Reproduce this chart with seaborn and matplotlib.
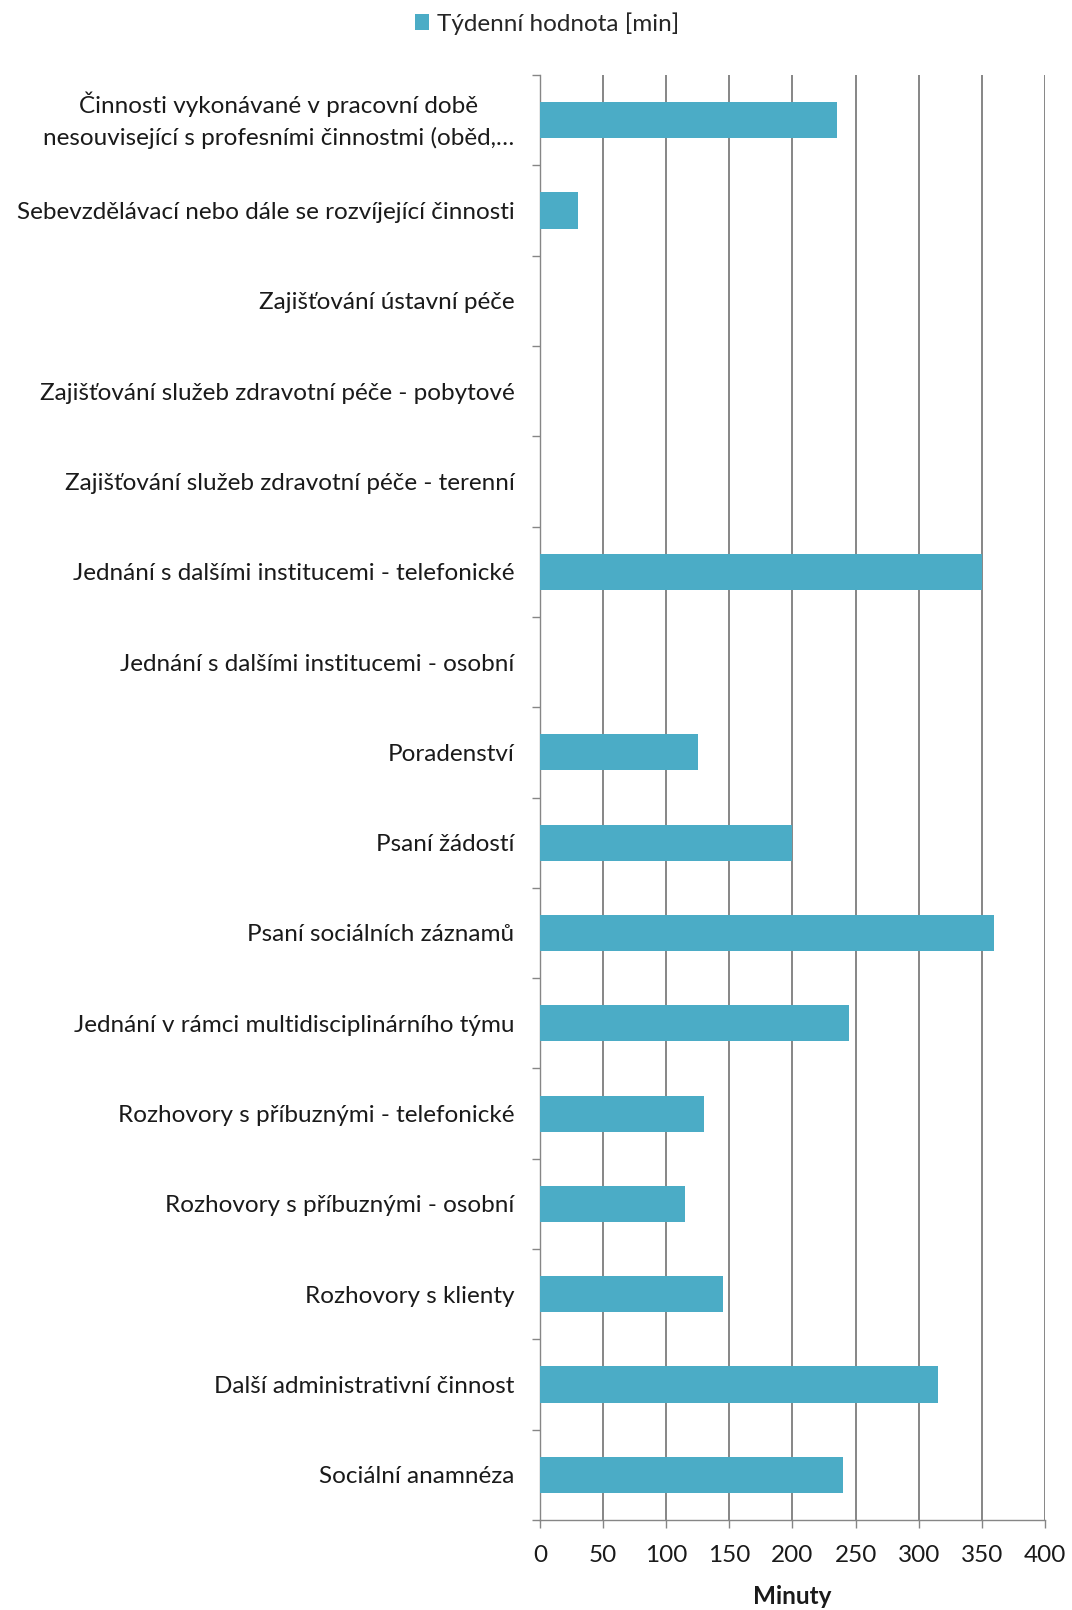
import numpy as np
import pandas as pd
import matplotlib
matplotlib.use("Agg")
import matplotlib.pyplot as plt
import matplotlib.transforms as mtransforms
import seaborn as sns
from matplotlib.ticker import FixedLocator

categories = [
    "Činnosti vykonávané v pracovní době\nnesouvisející s profesními činnostmi (oběd,…",
    "Sebevzdělávací nebo dále se rozvíjející činnosti",
    "Zajišťování ústavní péče",
    "Zajišťování služeb zdravotní péče - pobytové",
    "Zajišťování služeb zdravotní péče - terenní",
    "Jednání s dalšími institucemi - telefonické",
    "Jednání s dalšími institucemi - osobní",
    "Poradenství",
    "Psaní žádostí",
    "Psaní sociálních záznamů",
    "Jednání v rámci multidisciplinárního týmu",
    "Rozhovory s příbuznými - telefonické",
    "Rozhovory s příbuznými - osobní",
    "Rozhovory s klienty",
    "Další administrativní činnost",
    "Sociální anamnéza",
]
minutes = [235, 30, 0, 0, 0, 350, 0, 125, 200, 360, 245, 130, 115, 145, 315, 240]
x_ticks = [0, 50, 100, 150, 200, 250, 300, 350, 400]
series_name = "Týdenní hodnota [min]"
x_title = "Minuty"

bar_color = "#4BACC6"
axis_gray = "#868686"
text_color = "#1a1a1a"
fs = 17.5

sns.set_style("white")
plt.rcParams["font.family"] = ["Lato", "DejaVu Sans"]

df = pd.DataFrame({"Kategorie": categories, "Minuty": minutes})

fig = plt.figure(figsize=(10.72, 16.10), dpi=100)
ax = fig.add_axes([0.5037, 0.0559, 0.4711, 0.8975])

sns.barplot(data=df, x="Minuty", y="Kategorie", orient="h", color=bar_color,
            width=0.4, saturation=1, linewidth=0, ax=ax, label=series_name, zorder=3)

ax.set_xlim(0, 400)
ax.set_ylim(len(categories) - 0.5, -0.5)
ax.set_xticks(x_ticks)
ax.set_xticklabels([str(t) for t in x_ticks], fontsize=fs, color=text_color)
ax.tick_params(axis="x", bottom=True, length=5.8, width=1.0, color=axis_gray, pad=12)
ax.tick_params(axis="y", which="major", left=True, length=0, pad=18.5, labelsize=fs,
               labelcolor=text_color)
ax.yaxis.set_minor_locator(FixedLocator(np.arange(-0.5, len(categories), 1.0)))
ax.tick_params(axis="y", which="minor", left=True, length=5.8, width=1.0, color=axis_gray)

# two-line labels: centre the block on the category
lift = mtransforms.ScaledTranslation(0, 0.07, fig.dpi_scale_trans)
for lbl in ax.get_yticklabels():
    lbl.set_multialignment("center")
    if "\n" in lbl.get_text():
        lbl.set_linespacing(1.55)
        lbl.set_transform(lbl.get_transform() + lift)

ax.xaxis.grid(True, color=axis_gray, linewidth=1.4, zorder=0)
ax.set_axisbelow(True)
for side in ["top", "right"]:
    ax.spines[side].set_visible(False)
for side in ["left", "bottom"]:
    ax.spines[side].set_color(axis_gray)
    ax.spines[side].set_linewidth(1.0)

ax.set_ylabel("")
ax.set_xlabel(x_title, fontsize=fs, fontweight="bold", labelpad=14, color=text_color)

leg = ax.legend(loc="upper center", frameon=False, fontsize=fs,
                handlelength=0.6, handleheight=0.6, handletextpad=0.3,
                borderaxespad=0.0, borderpad=0.2)
leg.set_bbox_to_anchor((0.51, 0.9955), transform=fig.transFigure)

fig.savefig("out.png", dpi=100, facecolor="white")
